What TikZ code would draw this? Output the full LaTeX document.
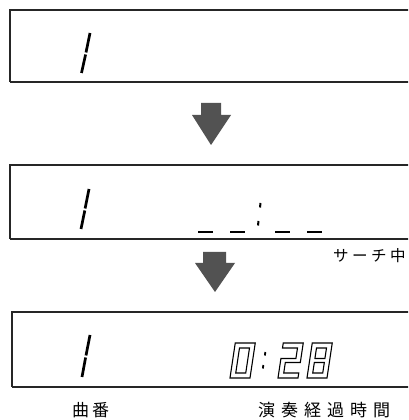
\documentclass[tikz,border=0pt]{standalone}
\usepackage{fontspec}
\newfontfamily\cjk{Noto Sans CJK JP}
\begin{document}
\begin{tikzpicture}[x=1pt,y=1pt,
  panel/.style={draw=black!85, line width=1.1pt},
  panelbase/.style={draw=black!85, line width=1.9pt},
  seg/.style={line width=2.7pt, line cap=butt},
  hollow/.style={line width=1.1pt, line join=miter},
  bigarrow/.style={fill=black!68, draw=none},
  lab/.style={font=\cjk\fontsize{17}{17}\selectfont, inner sep=0pt, anchor=west},
  smalllab/.style={font=\cjk\fontsize{15.5}{15.5}\selectfont, inner sep=0pt, anchor=west}]
\useasboundingbox (0,0) rectangle (408,420);
\clip (0,0) rectangle (408,420);

% ---------- panels ----------
\draw[panel] (420,410) -- (10,410) -- (10,338);
\draw[panelbase] (10,338) -- (420,338);
\draw[panel] (420,255) -- (10,255) -- (10,181);
\draw[panelbase] (10,181) -- (420,181);
\draw[panel] (420,108) -- (12,108) -- (12,33);
\draw[panelbase] (12,33) -- (420,33);

% ---------- block arrows ----------
\fill[bigarrow] (201,317) -- (221,317) -- (221,305) -- (231,305) -- (211,275)
  -- (192,305) -- (201,305) -- cycle;
\fill[bigarrow] (203,168) -- (226,168) -- (226,157) -- (235,157) -- (215,128)
  -- (195,157) -- (203,157) -- cycle;

% ---------- panel 1: "1" ----------
\draw[seg] (90,387) -- (86,367.5);
\draw[seg] (85.6,365.5) -- (81.5,347);

% ---------- panel 2: "1  _ _:_ _" ----------
\draw[seg] (89,231) -- (85.1,211.5);
\draw[seg] (84.8,209.5) -- (81,191);
\draw[seg] (198,188) -- (213,188);
\draw[seg] (230,188) -- (245,188);
\draw[seg] (275,188) -- (290,188);
\draw[seg] (307,188) -- (322,188);
\draw[line width=2pt] (260.5,217) -- (260,212.5);
\draw[line width=2pt] (258.5,199) -- (258,194.5);

% ---------- panel 3: "1  0:28" ----------
\draw[seg] (90,85) -- (86,64.5);
\draw[seg] (85.6,62.5) -- (82,43);

\begin{scope}[shift={(230,42)}, xslant=0.15]
  \draw[hollow] (0,0) -- (20,0) -- (20,35) -- (0,35) -- cycle;
  \draw[hollow] (5,5) -- (15,5) -- (15,30) -- (5,30) -- cycle;
\end{scope}
\draw[line width=1.8pt] (265.3,68) -- (264.9,64.5);
\draw[line width=1.8pt] (263.3,55) -- (262.9,51.5);
\begin{scope}[shift={(278,42)}, xslant=0.15]
  \draw[hollow] (0,35) -- (20,35) -- (20,15.5) -- (5,15.5) -- (5,5) -- (20,5)
    -- (20,0) -- (0,0) -- (0,19.5) -- (15,19.5) -- (15,30) -- (0,30) -- cycle;
\end{scope}
\begin{scope}[shift={(307,42)}, xslant=0.15]
  \draw[hollow] (0,0) -- (20,0) -- (20,35) -- (0,35) -- cycle;
  \draw[hollow] (5,5) -- (15,5) -- (15,15.5) -- (5,15.5) -- cycle;
  \draw[hollow] (5,19.5) -- (15,19.5) -- (15,30) -- (5,30) -- cycle;
\end{scope}

% ---------- labels ----------
\node[smalllab] (search) at (333,164) {サ\hspace{3.5pt}ー\hspace{3.5pt}チ\hspace{3.5pt}中};
\node[lab] (track) at (72,10) {曲\hspace{3pt}番};
\node[lab] (elapsed) at (258,10) {演\hspace{6pt}奏\hspace{6pt}経\hspace{6pt}過\hspace{6pt}時\hspace{6pt}間};
\end{tikzpicture}
\end{document}
